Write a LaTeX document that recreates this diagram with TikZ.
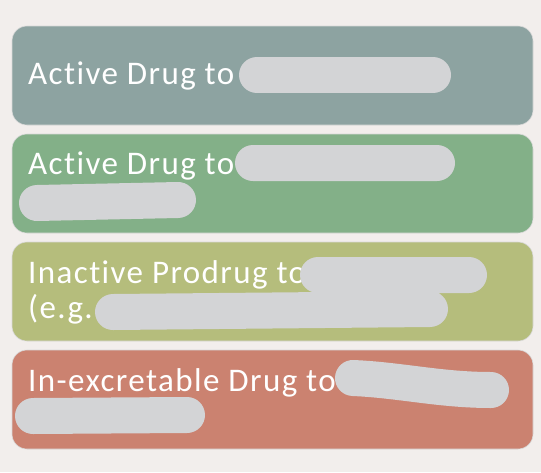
\documentclass[tikz,border=0pt]{standalone}
\usepackage{fontspec}
\setmainfont{Carlito}
\newfontfamily\cardfont{Carlito}[LetterSpace=4.3, Ligatures=NoCommon]
\usepackage{xcolor}
\usepackage{tikz}

\definecolor{bgcol}{HTML}{F2EEEC}
\definecolor{cardA}{HTML}{8DA3A1}
\definecolor{cardB}{HTML}{83B088}
\definecolor{cardC}{HTML}{B5BD7C}
\definecolor{cardD}{HTML}{CB8270}
\definecolor{blobcol}{HTML}{D3D4D6}

\tikzset{
  card/.style={rounded corners=15pt, draw=white!70!gray, line width=0.6pt},
  cardtext/.style={anchor=base west, inner sep=0pt, text=white,
    font=\cardfont\fontsize{33}{35}\selectfont},
  blob/.style={draw=blobcol, line width=36pt, line cap=round}
}

\begin{document}
\begin{tikzpicture}[x=1pt, y=-1pt]
    \useasboundingbox (0,0) rectangle (541,472);
    \fill [bgcol] (0,0) rectangle (541,472);

    % the four cards
    \draw [card, fill=cardA] (12,26) rectangle (533,125);
    \draw [card, fill=cardB] (12,134) rectangle (533,233);
    \draw [card, fill=cardC] (12,242) rectangle (533,341);
    \draw [card, fill=cardD] (12,350) rectangle (533,449);

    % texts
    \node [cardtext] (tA) at (28,84) {Active Drug to};
    \node [cardtext] (tB) at (28,174) {Active Drug to};
    \node [cardtext] (tC) at (28,283) {Inactive Prodrug to};
    \node [cardtext] (tCC) at (28,318) {(e.g.};
    \node [cardtext] (tD) at (28,391) {In-excretable Drug to};

    % grey marks over the hidden words
    \coordinate (a1) at (257,75);  \coordinate (a2) at (433,75);
    \coordinate (b1) at (253,163); \coordinate (b2) at (437,163);
    \coordinate (b3) at (37,203);  \coordinate (b4) at (178,200);
    \coordinate (c1) at (318,275); \coordinate (c2) at (469,275);
    \coordinate (c3) at (113,312); \coordinate (c4) at (430,309);
    \coordinate (d1) at (353,378); \coordinate (d2) at (491,390);
    \coordinate (d3) at (33,416);  \coordinate (d4) at (187,415);

    \draw [blob] (a1)--(a2);
    \draw [blob] (b1)--(b2) (b3)--(b4);
    \draw [blob] (c1)--(c2) (c3)--(c4);
    \draw [blob] (d1) .. controls (400,380) and (440,390) .. (d2) (d3)--(d4);
\end{tikzpicture}
\end{document}
